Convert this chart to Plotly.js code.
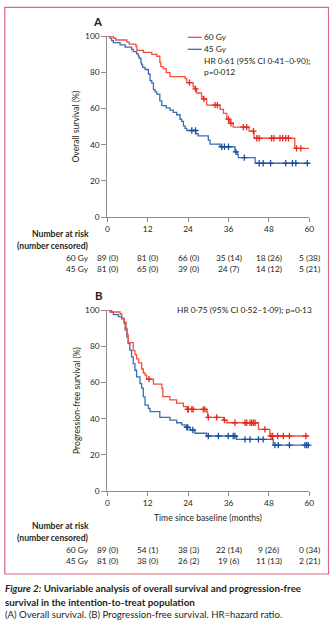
<!DOCTYPE html>
<html><head><meta charset="utf-8">
<script src="https://cdn.plot.ly/plotly-3.0.1.min.js"></script>
<style>html,body{margin:0;padding:0;background:#fff;} #chart{width:334px;height:626px;}</style>
</head><body><div id="chart"></div>
<script>
const W = 334, H = 626;
const monthTicks = [0, 12, 24, 36, 48, 60];
const survTicks = [0, 20, 40, 60, 80, 100];
const groups = ['60 Gy', '45 Gy'];

// Overall survival, 60 Gy
const osT60 = [0, 1.8, 2.5, 5.8, 6.5, 8.5, 8.8, 10.7, 13.2, 14.7, 15.6, 15.9, 16.6, 17.5, 18.6, 23.1, 23.6, 25.5, 26.0, 26.5, 28.0, 28.5, 29.5, 33.5, 34.5, 35.5, 36.4, 37.4, 42.1, 43.6, 55.7];
const osS60 = [100, 98.9, 97.8, 96.6, 95.5, 94.4, 92.1, 91.0, 89.9, 88.8, 85.4, 83.1, 82.0, 79.8, 77.5, 76.4, 74.2, 71.9, 70.8, 68.5, 66.3, 65.2, 61.8, 59.5, 57.2, 54.1, 51.8, 49.6, 47.5, 43.5, 37.9];
const osC60 = [24.4, 26.2, 28.7, 32.0, 32.7, 36.0, 36.7, 40.4, 41.4, 43.4, 44.4, 45.1, 48.8, 49.5, 51.3, 52.1, 53.0, 53.8, 56.2, 57.5];
const osEnd60 = 60;
// Overall survival, 45 Gy
const osT45 = [0, 0.8, 1.3, 1.8, 3.8, 5.3, 7.2, 7.7, 8.7, 9.2, 9.5, 10.0, 10.2, 10.5, 11.2, 12.2, 12.7, 13.2, 13.7, 14.2, 14.7, 15.6, 16.2, 17.5, 18.6, 19.6, 20.6, 21.6, 22.1, 22.6, 23.1, 23.6, 26.3, 27.0, 30.0, 30.5, 33.5, 37.9, 38.6, 38.9, 43.9];
const osS45 = [100, 98.8, 97.5, 96.3, 95.1, 93.8, 92.6, 91.4, 90.1, 88.9, 87.7, 85.2, 84.0, 82.7, 81.5, 79.0, 75.3, 74.1, 70.4, 69.1, 67.9, 64.2, 61.5, 60.3, 59.0, 57.8, 56.5, 54.0, 52.8, 50.3, 49.0, 47.8, 46.0, 44.8, 42.5, 40.3, 38.8, 36.0, 34.6, 32.8, 29.7];
const osC45 = [25.1, 26.2, 34.0, 34.8, 36.0, 38.2, 40.7, 45.1, 46.3, 48.5, 53.0, 55.0, 56.0, 59.4];
const osEnd45 = 59.4;

// Progression-free survival, 60 Gy
const pfsT60 = [0, 1.3, 3.8, 4.3, 5.0, 5.6, 5.9, 6.2, 7.7, 8.2, 8.7, 9.3, 10.2, 10.7, 11.2, 11.7, 13.7, 16.2, 16.5, 18.6, 20.6, 22.6, 23.6, 29.5, 29.8, 34.5, 35.5, 44.9, 48.3];
const pfsS60 = [100, 98.9, 97.8, 95.5, 93.3, 89.9, 86.5, 82.0, 77.5, 75.3, 73.0, 70.8, 67.4, 65.2, 64.0, 61.8, 59.1, 56.7, 52.1, 50.3, 48.5, 46.6, 45.1, 43.8, 40.7, 39.2, 37.7, 34.1, 30.4];
const pfsC60 = [12.4, 23.9, 24.1, 25.1, 25.5, 28.5, 29.0, 30.0, 32.5, 34.8, 37.9, 40.9, 41.4, 42.4, 42.9, 43.4, 43.9, 46.8, 48.6, 49.1, 50.6, 52.3, 54.1, 59.0];
const pfsEnd60 = 59.5;
// Progression-free survival, 45 Gy
const pfsT45 = [0, 0.8, 1.8, 3.3, 4.3, 5.0, 5.3, 5.8, 6.2, 6.7, 7.2, 7.7, 8.2, 8.7, 9.7, 10.2, 10.7, 11.2, 12.2, 12.7, 15.6, 18.6, 20.6, 22.1, 23.1, 24.6, 26.0, 29.5, 38.4, 49.3];
const pfsS45 = [100, 98.8, 97.5, 96.3, 95.1, 92.6, 88.9, 85.2, 81.5, 77.8, 74.1, 70.4, 66.7, 63.0, 59.3, 56.8, 52.0, 47.5, 45.7, 43.8, 40.7, 39.2, 37.7, 36.5, 35.2, 33.7, 31.9, 30.4, 28.5, 25.4];
const pfsC45 = [23.6, 23.9, 25.4, 30.0, 33.0, 35.9, 37.4, 37.9, 40.9, 42.4, 44.9, 46.3, 49.8, 50.8, 54.1, 58.7, 59.2, 59.7];
const pfsEnd45 = 59.8;

// Number at risk (number censored)
const riskOS60 = ['89 (0)', '81 (0)', '66 (0)', '35 (14)', '18 (26)', '5 (38)'];
const riskOS45 = ['81 (0)', '65 (0)', '39 (0)', '24 (7)', '14 (12)', '5 (21)'];
const riskPFS60 = ['89 (0)', '54 (1)', '38 (3)', '22 (14)', '9 (26)', '0 (34)'];
const riskPFS45 = ['81 (0)', '38 (0)', '26 (2)', '19 (6)', '11 (13)', '2 (21)'];

const RED = '#f2503c', BLUE = '#3a6db3', RED_D = '#e8281c', BLUE_D = '#1b4f9c';
const TXT = '#231f20', AX = '#8c8c8c';
const FONT = 'Lato, "Open Sans", sans-serif';
const FS = 8.4;

function survAt(T, S, t) { let v = S[0]; for (let i = 0; i < T.length; i++) { if (T[i] <= t) v = S[i]; } return v; }
function stepTrace(T, S, end, color, xa, ya) {
  return { x: T.concat([end]), y: S.concat([S[S.length - 1]]), mode: 'lines', line: { shape: 'hv', color: color, width: 1.3 }, xaxis: xa, yaxis: ya, hoverinfo: 'skip', showlegend: false };
}
function censTrace(T, S, C, color, xa, ya) {
  return { x: C, y: C.map(t => survAt(T, S, t)), mode: 'markers', marker: { symbol: 'cross-thin-open', size: 4.5, color: color, line: { color: color, width: 1.3 } }, xaxis: xa, yaxis: ya, hoverinfo: 'skip', showlegend: false, cliponaxis: false };
}

const data = [
  stepTrace(osT45, osS45, osEnd45, BLUE, 'x', 'y'),
  stepTrace(osT60, osS60, osEnd60, RED, 'x', 'y'),
  censTrace(osT45, osS45, osC45, BLUE_D, 'x', 'y'),
  censTrace(osT60, osS60, osC60, RED_D, 'x', 'y'),
  stepTrace(pfsT45, pfsS45, pfsEnd45, BLUE, 'x2', 'y2'),
  stepTrace(pfsT60, pfsS60, pfsEnd60, RED, 'x2', 'y2'),
  censTrace(pfsT45, pfsS45, pfsC45, BLUE_D, 'x2', 'y2'),
  censTrace(pfsT60, pfsS60, pfsC60, RED_D, 'x2', 'y2')
];

const px = v => v / W, py = v => 1 - v / H;
const tf = { family: FONT, size: FS, color: TXT };
function xax(anchor) { return { domain: [px(107.3), px(309.3)], range: [0, 60], tickvals: monthTicks, ticktext: monthTicks.map(String), ticks: 'outside', ticklen: 4, tickwidth: 1, tickcolor: AX, showline: true, linecolor: AX, linewidth: 1, showgrid: false, zeroline: false, anchor: anchor, tickfont: tf, automargin: false, fixedrange: true }; }
function yax(d, anchor) { return { domain: d, range: [0, 100], tickvals: survTicks, ticktext: survTicks.map(String), ticks: 'outside', ticklen: 5, tickwidth: 1, tickcolor: AX, showline: true, linecolor: AX, linewidth: 1, showgrid: false, zeroline: false, anchor: anchor, tickfont: tf, automargin: false, fixedrange: true }; }

const ann = [];
function txt(x, y, text, opts) {
  ann.push(Object.assign({ x: px(x), y: py(y), xref: 'paper', yref: 'paper', text: text, showarrow: false, xanchor: 'left', yanchor: 'middle', borderpad: 0, borderwidth: 0, font: { family: FONT, size: FS, color: TXT } }, opts || {}));
}
// panel letters
txt(98, 21, '<b>A</b>', { xanchor: 'center', font: { family: FONT, size: 11.5, color: TXT } });
txt(99, 295, '<b>B</b>', { xanchor: 'center', font: { family: FONT, size: 11.5, color: TXT } });
// legend + HR
txt(204, 37.3, groups[0]);
txt(204, 49.3, groups[1]);
txt(204, 61, 'HR 0·61 (95% CI 0·41–0·90);');
txt(204, 72.3, 'p=0·012');
txt(176.5, 310, 'HR 0·75 (95% CI 0·52–1·09); p=0·13');
// axis titles
txt(76, 126.5, 'Overall survival (%)', { xanchor: 'center', textangle: -90, font: { family: FONT, size: 8.6, color: TXT } });
txt(76.5, 400.5, 'Progression-free survival (%)', { xanchor: 'center', textangle: -90, font: { family: FONT, size: 8.6, color: TXT } });
txt(208.3, 517.7, 'Time since baseline (months)', { xanchor: 'center', font: { family: FONT, size: 8.6, color: TXT } });
// risk tables
function riskTable(y0, xa, r60, r45) {
  txt(88.5, y0, '<b>Number at risk</b>', { xanchor: 'right', font: { family: FONT, size: 8.6, color: TXT } });
  txt(88.5, y0 + 11.7, '<b>(number censored)</b>', { xanchor: 'right', font: { family: FONT, size: 8.6, color: TXT } });
  txt(88.5, y0 + 23.5, groups[0], { xanchor: 'right' });
  txt(88.5, y0 + 35, groups[1], { xanchor: 'right' });
  monthTicks.forEach((m, i) => {
    ann.push({ x: m, y: py(y0 + 23.5), xref: xa, yref: 'paper', text: r60[i], showarrow: false, xanchor: 'center', yanchor: 'middle', borderpad: 0, borderwidth: 0, font: { family: FONT, size: FS, color: TXT } });
    ann.push({ x: m, y: py(y0 + 35), xref: xa, yref: 'paper', text: r45[i], showarrow: false, xanchor: 'center', yanchor: 'middle', borderpad: 0, borderwidth: 0, font: { family: FONT, size: FS, color: TXT } });
  });
}
riskTable(234, 'x', riskOS60, riskOS45);
riskTable(526.3, 'x2', riskPFS60, riskPFS45);
// caption
txt(5, 587.7, '<b><i>Figure 2:</i> Univariable analysis of overall survival and progression-free</b>', { font: { family: FONT, size: 9.8, color: TXT } });
txt(5, 601.7, '<b>survival in the intention-to-treat population</b>', { font: { family: FONT, size: 9.8, color: TXT } });
txt(5, 614.3, '(A) Overall survival. (B) Progression-free survival. HR=hazard ratio.', { font: { family: FONT, size: 9.6, color: TXT } });

const shapes = [
  { type: 'rect', xref: 'paper', yref: 'paper', x0: px(4.8), x1: px(328.5), y0: py(574), y1: py(7.3), line: { color: '#d8687f', width: 1.2 }, fillcolor: 'rgba(0,0,0,0)' },
  { type: 'line', xref: 'paper', yref: 'paper', x0: px(187.7), x1: px(201.7), y0: py(37.3), y1: py(37.3), line: { color: RED, width: 1.3 } },
  { type: 'line', xref: 'paper', yref: 'paper', x0: px(187.7), x1: px(201.7), y0: py(49.3), y1: py(49.3), line: { color: BLUE, width: 1.3 } }
];

const layout = {
  width: W, height: H, margin: { l: 0, r: 0, t: 0, b: 0 }, paper_bgcolor: '#fff', plot_bgcolor: 'rgba(0,0,0,0)',
  showlegend: false, font: { family: FONT, size: FS, color: TXT },
  xaxis: xax('y'), yaxis: yax([py(217), py(36)], 'x'),
  xaxis2: xax('y2'), yaxis2: yax([py(491), py(310)], 'x2'),
  annotations: ann, shapes: shapes
};
Plotly.newPlot('chart', data, layout, { staticPlot: true, displayModeBar: false });
</script></body></html>
